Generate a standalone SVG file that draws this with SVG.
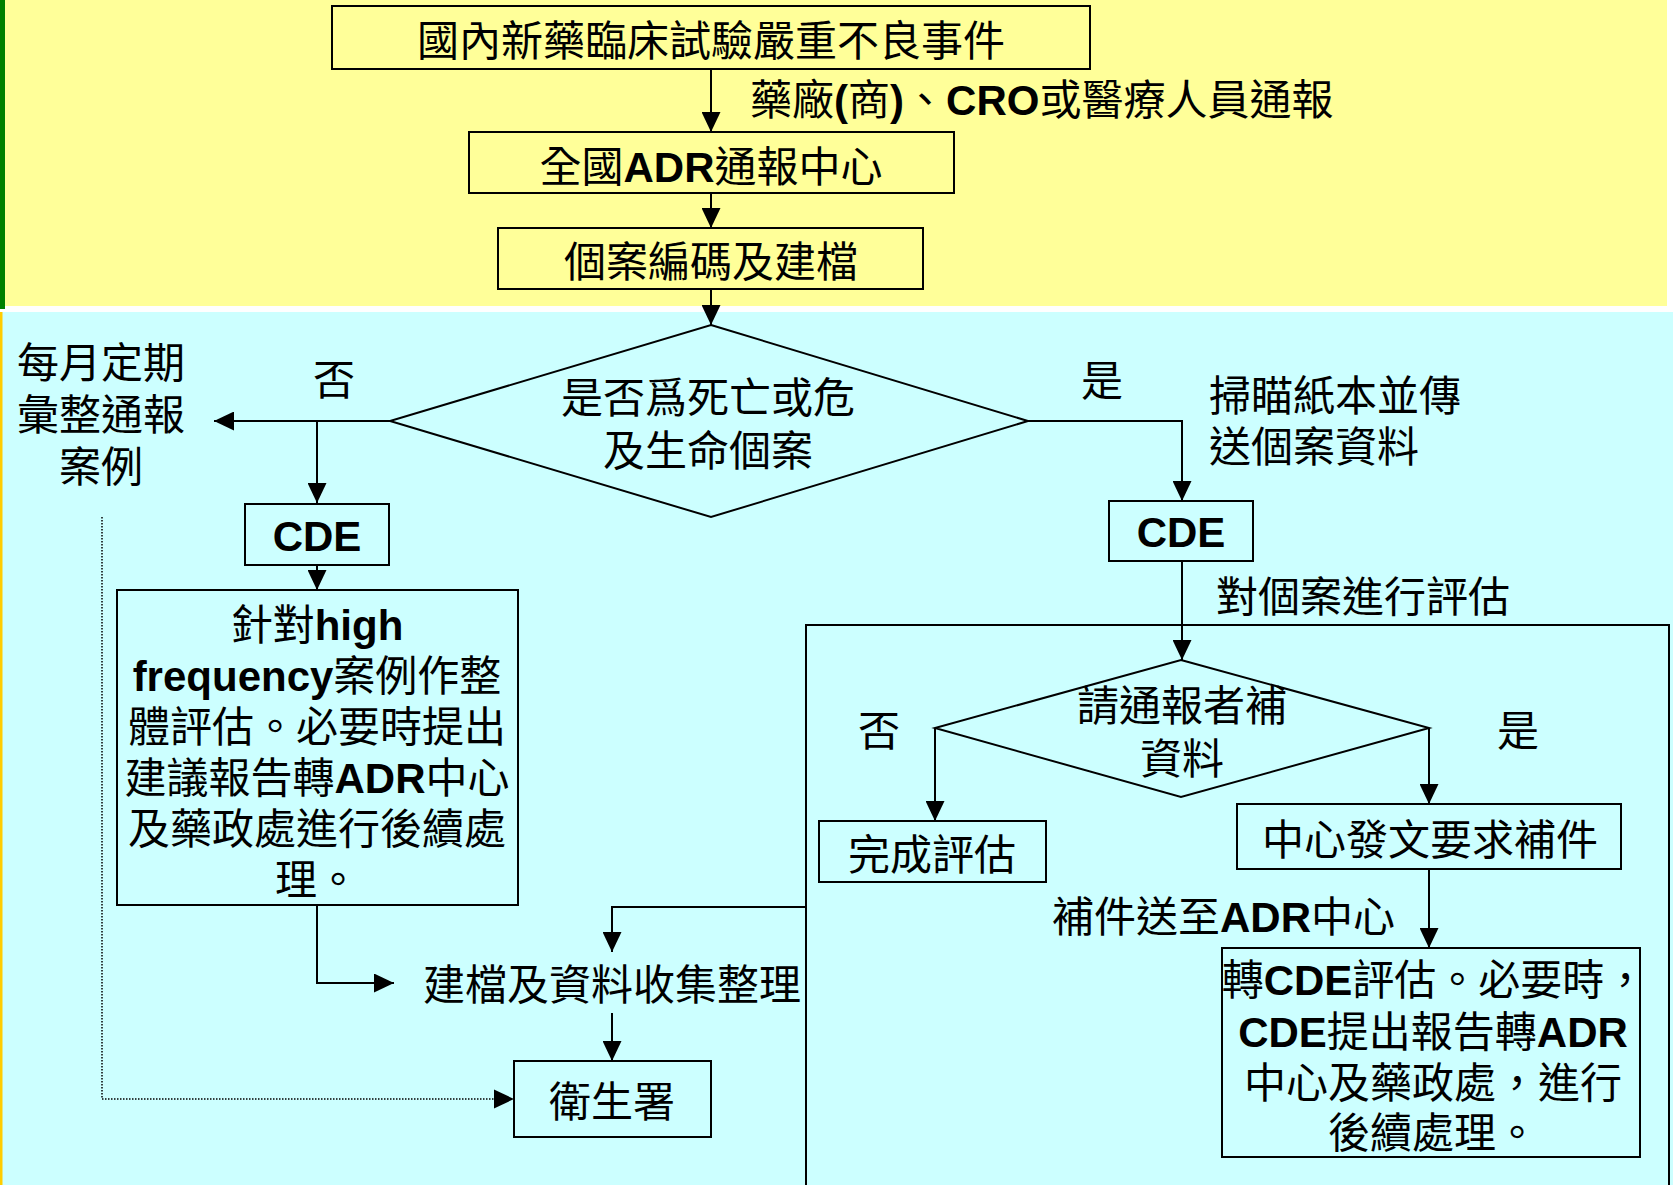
<svg xmlns="http://www.w3.org/2000/svg" width="1673" height="1185" viewBox="0 0 1673 1185">
<defs>
<style>
.bx{fill:none;stroke:#000;stroke-width:2}
.t{font-family:"Liberation Sans","Noto Sans CJK TC",sans-serif;font-size:42px;fill:#000}
.m{text-anchor:middle}
.b{font-weight:bold}
.c{fill:none;stroke:#000;stroke-width:2}
.d{fill:none;stroke:#000;stroke-width:1.5;stroke-dasharray:1.5 1.5}
</style>
<marker id="ah" viewBox="0 0 20 19" refX="20" refY="9.5" markerWidth="20" markerHeight="19" markerUnits="userSpaceOnUse" orient="auto">
<path d="M0,0 L20,9.5 L0,19 z" fill="#000"/>
</marker>
</defs>
<g id="background">
<rect x="0" y="0" width="1673" height="1185" fill="#ffffff"/>
<rect x="0" y="0" width="1667" height="306" fill="#ffff99"/>
<rect x="0" y="0" width="5" height="309" fill="#008000"/>
<rect x="0" y="312" width="1673" height="873" fill="#ccffff"/>
<rect x="0" y="312" width="2.5" height="873" fill="#ffcc00"/>
</g>
<g id="frame">
<rect x="806" y="625" width="863" height="600" class="bx"/>
</g>
<g id="connectors">
<path class="c" d="M711,69 V132" marker-end="url(#ah)"/>
<path class="c" d="M711,193 V228" marker-end="url(#ah)"/>
<path class="c" d="M711,289 V325" marker-end="url(#ah)"/>
<path class="c" d="M390,421 H214" marker-end="url(#ah)"/>
<path class="c" d="M317,421 V503" marker-end="url(#ah)"/>
<path class="c" d="M317,565 V590" marker-end="url(#ah)"/>
<path class="c" d="M1028,421 H1182 V501" marker-end="url(#ah)"/>
<path class="c" d="M1182,561 V660" marker-end="url(#ah)"/>
<path class="c" d="M935,728 V821" marker-end="url(#ah)"/>
<path class="c" d="M1429,728 V804" marker-end="url(#ah)"/>
<path class="c" d="M1429,869 V948" marker-end="url(#ah)"/>
<path class="c" d="M317,905 V983 H394" marker-end="url(#ah)"/>
<path class="c" d="M806,907 H612 V952" marker-end="url(#ah)"/>
<path class="c" d="M612,1013 V1061" marker-end="url(#ah)"/>
<path class="d" d="M102,517 V1099 H494"/>
<path d="M494,1089.5 L514,1099 L494,1108.5 z" fill="#000"/>
<text class="t" x="750" y="115">藥廠<tspan class="b">(</tspan>商<tspan class="b">)</tspan>、<tspan class="b">CRO</tspan>或醫療人員通報</text>
<text class="t m" x="334" y="395">否</text>
<text class="t m" x="1102" y="396">是</text>
<text class="t" x="1209" y="411">掃瞄紙本並傳</text>
<text class="t" x="1209" y="462">送個案資料</text>
<text class="t" x="1216" y="612">對個案進行評估</text>
<text class="t m" x="879" y="746">否</text>
<text class="t m" x="1518" y="746">是</text>
<text class="t" x="1052" y="932">補件送至<tspan class="b">ADR</tspan>中心</text>
</g>
<g id="n-event">
<rect class="bx" x="332" y="6" width="758" height="63"/>
<text class="t m" x="711" y="56">國內新藥臨床試驗嚴重不良事件</text>
</g>
<g id="n-adr">
<rect class="bx" x="469" y="132" width="485" height="61"/>
<text class="t m" x="711" y="182">全國<tspan class="b">ADR</tspan>通報中心</text>
</g>
<g id="n-file">
<rect class="bx" x="498" y="228" width="425" height="61"/>
<text class="t m" x="711" y="277">個案編碼及建檔</text>
</g>
<g id="n-decision1">
<polygon class="bx" points="711,325 1028,421 711,517 390,421"/>
<text class="t m" x="708" y="413">是否爲死亡或危</text>
<text class="t m" x="708" y="466">及生命個案</text>
</g>
<g id="n-monthly">
<text class="t m" x="101" y="378">每月定期</text>
<text class="t m" x="101" y="430">彙整通報</text>
<text class="t m" x="101" y="482">案例</text>
</g>
<g id="n-cde-left">
<rect class="bx" x="245" y="504" width="144" height="61"/>
<text class="t m b" x="317" y="551">CDE</text>
</g>
<g id="n-highfreq">
<rect class="bx" x="117" y="590" width="401" height="315"/>
<text class="t m" x="317" y="640">針對<tspan class="b">high</tspan></text>
<text class="t m" x="317" y="691"><tspan class="b">frequency</tspan>案例作整</text>
<text class="t m" x="317" y="742">體評估。必要時提出</text>
<text class="t m" x="317" y="793">建議報告轉<tspan class="b">ADR</tspan>中心</text>
<text class="t m" x="317" y="844">及藥政處進行後續處</text>
<text class="t m" x="317" y="895">理。</text>
</g>
<g id="n-cde-right">
<rect class="bx" x="1109" y="501" width="144" height="60"/>
<text class="t m b" x="1181" y="547">CDE</text>
</g>
<g id="n-decision2">
<polygon class="bx" points="1181,660 1429,728 1181,797 935,728"/>
<text class="t m" x="1182" y="721">請通報者補</text>
<text class="t m" x="1182" y="774">資料</text>
</g>
<g id="n-done">
<rect class="bx" x="819" y="821" width="227" height="61"/>
<text class="t m" x="932" y="870">完成評估</text>
</g>
<g id="n-request">
<rect class="bx" x="1237" y="804" width="384" height="65"/>
<text class="t m" x="1430" y="855">中心發文要求補件</text>
</g>
<g id="n-cde-eval">
<rect class="bx" x="1222" y="948" width="418" height="209"/>
<text class="t m" x="1434" y="995">轉<tspan class="b">CDE</tspan>評估。必要時，</text>
<text class="t m" x="1433" y="1047"><tspan class="b">CDE</tspan>提出報告轉<tspan class="b">ADR</tspan></text>
<text class="t m" x="1433" y="1098">中心及藥政處，進行</text>
<text class="t m" x="1433" y="1148">後續處理。</text>
</g>
<g id="n-collect">
<text class="t m" x="612" y="1000">建檔及資料收集整理</text>
</g>
<g id="n-doh">
<rect class="bx" x="514" y="1061" width="197" height="76"/>
<text class="t m" x="612" y="1117">衛生署</text>
</g>
</svg>
